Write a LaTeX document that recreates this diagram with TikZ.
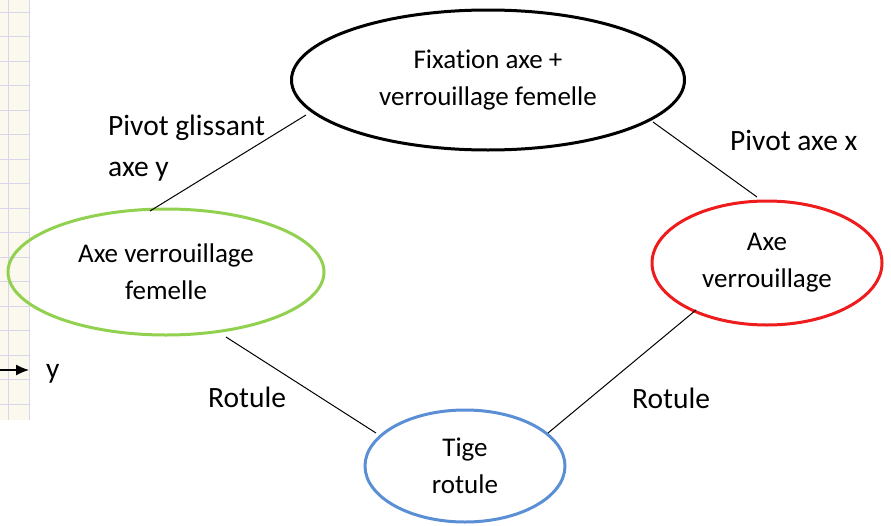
\documentclass[tikz,border=0pt]{standalone}
\usepackage{fontspec}
\setmainfont{Carlito}[Ligatures=NoCommon]
\usetikzlibrary{shapes.geometric,arrows.meta,calc}
\definecolor{vgreen}{HTML}{92D050}
\definecolor{vblue}{HTML}{5B8FD5}
\definecolor{vred}{HTML}{EE1C1C}
\definecolor{paper}{HTML}{FBF8EE}
\definecolor{gridl}{HTML}{D8D4EC}
\tikzset{
  liaison/.style={draw, ellipse, line width=3pt, align=center, font=\fontsize{27}{37}\selectfont, inner sep=0pt, text=black},
  lien/.style={draw, line width=1pt},
  lab/.style={font=\fontsize{29.5}{41}\selectfont, align=left, inner sep=0pt, anchor=base west}
}
\begin{document}
\begin{tikzpicture}[x=1pt,y=-1pt]
\useasboundingbox (0,0) rectangle (891,525);
% paper strip
\fill[paper] (0,0) rectangle (30,420);
\foreach \yy in {12,36.5,...,420} \draw[gridl, line width=0.8pt] (0,\yy) -- (30,\yy);
\draw[gridl, line width=0.8pt] (8,0) -- (8,420);
\draw[gridl, line width=0.5pt] (29,0) -- (29,420);
\coordinate (ya) at (0,370);
\coordinate (yb) at (29,370);
\draw[line width=1.3pt, -{Latex[length=13pt,width=11pt]}] (ya) -- (yb);
\node[lab] (ylab) at (46,378) {y};
% nodes
\node[liaison, draw=black, minimum width=393, minimum height=140] (top) at (488,80) {Fixation axe +\\verrouillage femelle};
\node[liaison, draw=vgreen, minimum width=316, minimum height=126] (green) at (166,272) {Axe verrouillage\\femelle};
\node[liaison, draw=vred, minimum width=230, minimum height=124] (red) at (767,263) {Axe\\verrouillage};
\node[liaison, draw=vblue, minimum width=200, minimum height=112] (blue) at (465,466) {Tige\\rotule};
% connectors
\draw[lien] ($(top.center)+(-182,35)$) -- ($(green.center)+(-16,-61)$);
\draw[lien] ($(top.center)+(165,42)$) -- ($(red.center)+(-10,-66)$);
\draw[lien] ($(green.center)+(60,65)$) -- ($(blue.center)+(-89,-33)$);
\draw[lien] ($(red.center)+(-71,47)$) -- ($(blue.center)+(83,-33)$);
% labels
\node[lab] (l1) at (108,176) {Pivot glissant\\axe y};
\node[lab] (l2) at (730,150) {Pivot axe x};
\node[lab] (l3) at (208,407) {Rotule};
\node[lab] (l4) at (632,408) {Rotule};
\end{tikzpicture}
\end{document}
